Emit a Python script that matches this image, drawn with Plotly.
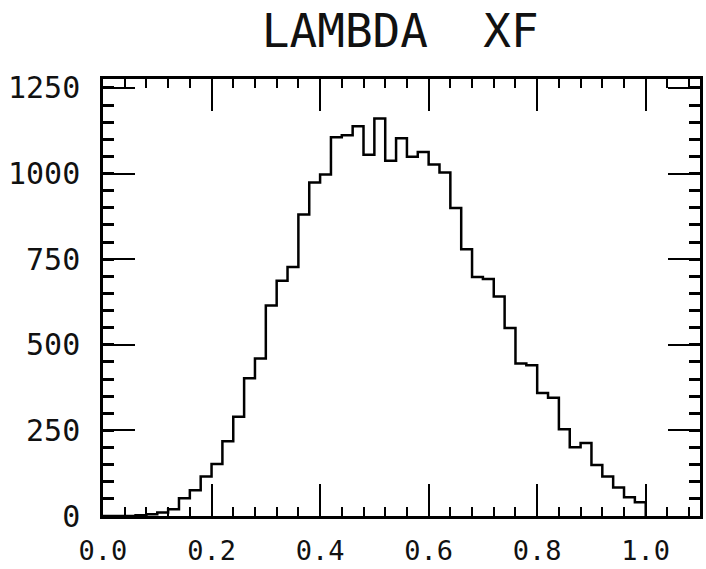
import plotly.graph_objects as go

# Histogram of Lambda xF: 50 bins of width 0.02 from 0.0 to 1.0
BIN_START = 0.0
BIN_WIDTH = 0.02
counts = [
    0, 0, 0, 2, 5, 10, 20, 52, 75, 115,
    152, 218, 290, 402, 460, 615, 687, 727, 880, 974,
    997, 1106, 1112, 1138, 1055, 1161, 1037, 1103, 1049, 1063,
    1026, 1003, 899, 779, 698, 692, 641, 549, 445, 440,
    359, 345, 253, 201, 213, 149, 115, 83, 55, 40,
]
x_ticks = [0.0, 0.2, 0.4, 0.6, 0.8, 1.0]
x_ticklabels = ["0.0", "0.2", "0.4", "0.6", "0.8", "1.0"]
y_ticks = [0, 250, 500, 750, 1000, 1250]
y_ticklabels = ["0", "250", "500", "750", "1000", "1250"]

# Step outline: one point per bin edge, closing down to zero at the last edge
edges = [BIN_START + i * BIN_WIDTH for i in range(len(counts) + 1)]
xs = edges + [edges[-1]]
ys = counts + [counts[-1], 0]

fig = go.Figure()
fig.add_trace(go.Scatter(
    x=xs, y=ys, mode="lines", line_shape="hv",
    line=dict(color="black", width=2.5), hoverinfo="skip", showlegend=False,
))

axis_common = dict(
    showline=True, linecolor="black", linewidth=2.5, mirror="allticks",
    ticks="inside", ticklen=32, tickwidth=1.5, tickcolor="black",
    showgrid=False, zeroline=False,
)

fig.update_xaxes(
    range=[0, 1.1], tickvals=x_ticks, ticktext=x_ticklabels,
    ticklabelstandoff=9,
    tickfont=dict(family="DejaVu Sans Mono", size=27, color="#111"),
    minor=dict(dtick=0.04, tick0=0, ticks="inside", ticklen=9,
               tickwidth=1.5, tickcolor="black", showgrid=False),
    **axis_common,
)
fig.update_yaxes(
    range=[0, 1276], tickvals=y_ticks, ticktext=y_ticklabels,
    ticklabelstandoff=14,
    tickfont=dict(family="DejaVu Sans Mono", size=30, color="#111"),
    minor=dict(dtick=50, tick0=0, ticks="inside", ticklen=11,
               tickwidth=2.5, tickcolor="black", showgrid=False),
    **axis_common,
)

fig.update_layout(
    width=706, height=569,
    margin=dict(l=103, r=3, t=79, b=46),
    paper_bgcolor="white", plot_bgcolor="white",
    title=dict(
        text="LAMBDA  XF", x=0.567, xanchor="center", y=0.945, yanchor="middle",
        font=dict(family="DejaVu Sans Mono", size=46, color="#111"),
    ),
)

fig.write_html("out.html")
